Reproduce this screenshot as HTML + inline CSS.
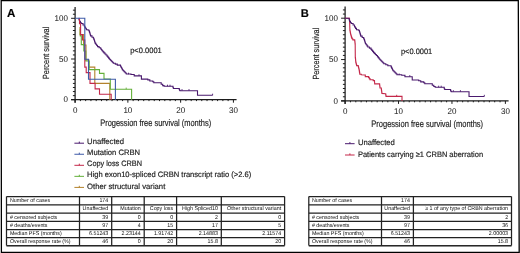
<!DOCTYPE html>
<html><head><meta charset="utf-8"><title>CRBN PFS</title><style>html,body{margin:0;padding:0;background:#fff;width:520px;height:253px;overflow:hidden}svg text{font-family:"Liberation Sans", sans-serif;filter:grayscale(1);text-rendering:geometricPrecision;stroke:#1e1e1e;stroke-width:0.18px}</style></head><body>
<svg width="520" height="253" viewBox="0 0 520 253" style="display:block;font-family:'Liberation Sans', sans-serif">
<rect x="0" y="0" width="520" height="253" fill="#fff"/>
<path d="M1.2,0.5 L518.3,0.5 L519.2,252.4 L1.4,252.4 Z" fill="none" stroke="#000" stroke-width="1.3" />
<text x="7.10" y="16.70" font-size="11.6" text-anchor="start" font-weight="bold" fill="#000" >A</text>
<text x="300.70" y="16.50" font-size="11.2" text-anchor="start" font-weight="bold" fill="#000" >B</text>
<path d="M75.1,6.90 L75.1,102.70" fill="none" stroke="#1c1c1c" stroke-width="1.25" />
<path d="M71.10,99.7 L236.58,99.7" fill="none" stroke="#1c1c1c" stroke-width="1.25" />
<path d="M71.10,99.70 L75.1,99.70 M72.90,95.63 L75.1,95.63 M72.90,91.56 L75.1,91.56 M72.90,87.49 L75.1,87.49 M72.90,83.42 L75.1,83.42 M72.90,79.35 L75.1,79.35 M72.90,75.28 L75.1,75.28 M72.90,71.21 L75.1,71.21 M72.90,67.14 L75.1,67.14 M72.90,63.07 L75.1,63.07 M71.10,59.00 L75.1,59.00 M72.90,54.93 L75.1,54.93 M72.90,50.86 L75.1,50.86 M72.90,46.79 L75.1,46.79 M72.90,42.72 L75.1,42.72 M72.90,38.65 L75.1,38.65 M72.90,34.58 L75.1,34.58 M72.90,30.51 L75.1,30.51 M72.90,26.44 L75.1,26.44 M72.90,22.37 L75.1,22.37 M71.10,18.30 L75.1,18.30 M72.90,14.23 L75.1,14.23 M72.90,10.16 L75.1,10.16" fill="none" stroke="#1c1c1c" stroke-width="1.0" />
<path d="M75.10,99.7 L75.10,102.70 M80.38,99.7 L80.38,101.10 M85.65,99.7 L85.65,101.10 M90.93,99.7 L90.93,101.10 M96.21,99.7 L96.21,101.10 M101.48,99.7 L101.48,101.10 M106.76,99.7 L106.76,101.10 M112.04,99.7 L112.04,101.10 M117.32,99.7 L117.32,101.10 M122.59,99.7 L122.59,101.10 M127.87,99.7 L127.87,102.70 M133.15,99.7 L133.15,101.10 M138.42,99.7 L138.42,101.10 M143.70,99.7 L143.70,101.10 M148.98,99.7 L148.98,101.10 M154.25,99.7 L154.25,101.10 M159.53,99.7 L159.53,101.10 M164.81,99.7 L164.81,101.10 M170.09,99.7 L170.09,101.10 M175.36,99.7 L175.36,101.10 M180.64,99.7 L180.64,102.70 M185.92,99.7 L185.92,101.10 M191.19,99.7 L191.19,101.10 M196.47,99.7 L196.47,101.10 M201.75,99.7 L201.75,101.10 M207.03,99.7 L207.03,101.10 M212.30,99.7 L212.30,101.10 M217.58,99.7 L217.58,101.10 M222.86,99.7 L222.86,101.10 M228.13,99.7 L228.13,101.10 M233.41,99.7 L233.41,102.70" fill="none" stroke="#1c1c1c" stroke-width="1.0" />
<path d="M345.1,6.62 L345.1,103.90" fill="none" stroke="#1c1c1c" stroke-width="1.25" />
<path d="M341.10,100.9 L508.60,100.9" fill="none" stroke="#1c1c1c" stroke-width="1.25" />
<path d="M341.10,100.90 L345.1,100.90 M342.90,96.77 L345.1,96.77 M342.90,92.63 L345.1,92.63 M342.90,88.50 L345.1,88.50 M342.90,84.36 L345.1,84.36 M342.90,80.23 L345.1,80.23 M342.90,76.09 L345.1,76.09 M342.90,71.95 L345.1,71.95 M342.90,67.82 L345.1,67.82 M342.90,63.69 L345.1,63.69 M341.10,59.55 L345.1,59.55 M342.90,55.41 L345.1,55.41 M342.90,51.28 L345.1,51.28 M342.90,47.15 L345.1,47.15 M342.90,43.01 L345.1,43.01 M342.90,38.88 L345.1,38.88 M342.90,34.74 L345.1,34.74 M342.90,30.61 L345.1,30.61 M342.90,26.47 L345.1,26.47 M342.90,22.33 L345.1,22.33 M341.10,18.20 L345.1,18.20 M342.90,14.06 L345.1,14.06 M342.90,9.93 L345.1,9.93" fill="none" stroke="#1c1c1c" stroke-width="1.0" />
<path d="M345.10,100.9 L345.10,103.90 M350.44,100.9 L350.44,102.30 M355.79,100.9 L355.79,102.30 M361.13,100.9 L361.13,102.30 M366.47,100.9 L366.47,102.30 M371.81,100.9 L371.81,102.30 M377.16,100.9 L377.16,102.30 M382.50,100.9 L382.50,102.30 M387.84,100.9 L387.84,102.30 M393.19,100.9 L393.19,102.30 M398.53,100.9 L398.53,103.90 M403.87,100.9 L403.87,102.30 M409.22,100.9 L409.22,102.30 M414.56,100.9 L414.56,102.30 M419.90,100.9 L419.90,102.30 M425.25,100.9 L425.25,102.30 M430.59,100.9 L430.59,102.30 M435.93,100.9 L435.93,102.30 M441.27,100.9 L441.27,102.30 M446.62,100.9 L446.62,102.30 M451.96,100.9 L451.96,103.90 M457.30,100.9 L457.30,102.30 M462.65,100.9 L462.65,102.30 M467.99,100.9 L467.99,102.30 M473.33,100.9 L473.33,102.30 M478.68,100.9 L478.68,102.30 M484.02,100.9 L484.02,102.30 M489.36,100.9 L489.36,102.30 M494.70,100.9 L494.70,102.30 M500.05,100.9 L500.05,102.30 M505.39,100.9 L505.39,103.90" fill="none" stroke="#1c1c1c" stroke-width="1.0" />
<text x="67.90" y="102.35" font-size="8.4" text-anchor="end" font-weight="normal" fill="#1e1e1e" textLength="4.45" lengthAdjust="spacingAndGlyphs" style="stroke-width:0.05px">0</text>
<text x="67.90" y="61.65" font-size="8.4" text-anchor="end" font-weight="normal" fill="#1e1e1e" textLength="8.90" lengthAdjust="spacingAndGlyphs" style="stroke-width:0.05px">50</text>
<text x="67.90" y="20.95" font-size="8.4" text-anchor="end" font-weight="normal" fill="#1e1e1e" textLength="13.34" lengthAdjust="spacingAndGlyphs" style="stroke-width:0.05px">100</text>
<text x="75.10" y="112.70" font-size="8.4" text-anchor="middle" font-weight="normal" fill="#1e1e1e" textLength="4.45" lengthAdjust="spacingAndGlyphs" style="stroke-width:0.05px">0</text>
<text x="127.87" y="112.70" font-size="8.4" text-anchor="middle" font-weight="normal" fill="#1e1e1e" textLength="8.90" lengthAdjust="spacingAndGlyphs" style="stroke-width:0.05px">10</text>
<text x="180.64" y="112.70" font-size="8.4" text-anchor="middle" font-weight="normal" fill="#1e1e1e" textLength="8.90" lengthAdjust="spacingAndGlyphs" style="stroke-width:0.05px">20</text>
<text x="233.41" y="112.70" font-size="8.4" text-anchor="middle" font-weight="normal" fill="#1e1e1e" textLength="8.90" lengthAdjust="spacingAndGlyphs" style="stroke-width:0.05px">30</text>
<text x="337.90" y="103.55" font-size="8.4" text-anchor="end" font-weight="normal" fill="#1e1e1e" textLength="4.45" lengthAdjust="spacingAndGlyphs" style="stroke-width:0.05px">0</text>
<text x="337.90" y="62.20" font-size="8.4" text-anchor="end" font-weight="normal" fill="#1e1e1e" textLength="8.90" lengthAdjust="spacingAndGlyphs" style="stroke-width:0.05px">50</text>
<text x="337.90" y="20.85" font-size="8.4" text-anchor="end" font-weight="normal" fill="#1e1e1e" textLength="13.34" lengthAdjust="spacingAndGlyphs" style="stroke-width:0.05px">100</text>
<text x="345.10" y="113.90" font-size="8.4" text-anchor="middle" font-weight="normal" fill="#1e1e1e" textLength="4.45" lengthAdjust="spacingAndGlyphs" style="stroke-width:0.05px">0</text>
<text x="398.53" y="113.90" font-size="8.4" text-anchor="middle" font-weight="normal" fill="#1e1e1e" textLength="8.90" lengthAdjust="spacingAndGlyphs" style="stroke-width:0.05px">10</text>
<text x="451.96" y="113.90" font-size="8.4" text-anchor="middle" font-weight="normal" fill="#1e1e1e" textLength="8.90" lengthAdjust="spacingAndGlyphs" style="stroke-width:0.05px">20</text>
<text x="505.39" y="113.90" font-size="8.4" text-anchor="middle" font-weight="normal" fill="#1e1e1e" textLength="8.90" lengthAdjust="spacingAndGlyphs" style="stroke-width:0.05px">30</text>
<text x="100.20" y="125.60" font-size="9.4" text-anchor="start" font-weight="normal" fill="#1e1e1e" textLength="111.00" lengthAdjust="spacingAndGlyphs" >Progession free survival (months)</text>
<text x="371.30" y="126.70" font-size="9.4" text-anchor="start" font-weight="normal" fill="#1e1e1e" textLength="111.80" lengthAdjust="spacingAndGlyphs" >Progession free survival (months)</text>
<text transform="translate(49.3,79.1) rotate(-90)" x="0" y="0" font-size="8.9" fill="#1e1e1e" textLength="52.4" lengthAdjust="spacingAndGlyphs">Percent survival</text>
<text transform="translate(319.4,79.6) rotate(-90)" x="0" y="0" font-size="8.9" fill="#1e1e1e" textLength="51.9" lengthAdjust="spacingAndGlyphs">Percent survival</text>
<text x="130.20" y="53.40" font-size="7.8" text-anchor="start" font-weight="normal" fill="#1e1e1e" textLength="31.60" lengthAdjust="spacingAndGlyphs" >p&lt;0.0001</text>
<text x="400.90" y="53.65" font-size="7.8" text-anchor="start" font-weight="normal" fill="#1e1e1e" textLength="31.40" lengthAdjust="spacingAndGlyphs" >p&lt;0.0001</text>
<path d="M78.60,18.30 L78.97,18.30 L78.97,19.40 L79.33,19.40 L79.33,20.50 L79.70,20.50 L79.70,21.60 L80.40,21.60 L80.40,22.55 L81.10,22.55 L81.10,23.50 L83.00,23.50 L83.00,25.00 L84.40,25.00 L84.40,26.40 L84.90,26.40 L84.90,27.35 L85.40,27.35 L85.40,28.30 L86.30,28.30 L86.30,29.70 L88.20,29.70 L88.20,30.20 L89.20,30.20 L89.20,31.60 L89.60,31.60 L89.60,32.80 L90.00,32.80 L90.00,34.00 L90.30,34.00 L90.30,34.95 L90.60,34.95 L90.60,35.90 L92.00,35.90 L92.00,37.30 L93.40,37.30 L93.40,38.20 L93.85,38.20 L93.85,39.35 L94.30,39.35 L94.30,40.50 L94.60,40.50 L94.60,41.47 L94.90,41.47 L94.90,42.43 L95.20,42.43 L95.20,43.40 L95.97,43.40 L95.97,44.47 L96.73,44.47 L96.73,45.53 L97.50,45.53 L97.50,46.60 L99.10,46.60 L99.10,47.80 L100.70,47.80 L100.70,49.00 L101.50,49.00 L101.50,49.98 L102.30,49.98 L102.30,50.95 L103.10,50.95 L103.10,51.92 L103.90,51.92 L103.90,52.90 L104.93,52.90 L104.93,53.97 L105.97,53.97 L105.97,55.03 L107.00,55.03 L107.00,56.10 L107.80,56.10 L107.80,57.13 L108.60,57.13 L108.60,58.17 L109.40,58.17 L109.40,59.20 L110.38,59.20 L110.38,60.20 L111.35,60.20 L111.35,61.20 L112.33,61.20 L112.33,62.20 L113.30,62.20 L113.30,63.20 L115.30,63.20 L115.30,64.15 L117.30,64.15 L117.30,65.10 L120.50,65.10 L120.50,66.20 L121.13,66.20 L121.13,67.47 L121.77,67.47 L121.77,68.73 L122.40,68.73 L122.40,70.00 L123.38,70.00 L123.38,71.00 L124.35,71.00 L124.35,72.00 L125.33,72.00 L125.33,73.00 L126.30,73.00 L126.30,74.00 L131.00,74.00 L131.00,74.50 L134.20,74.50 L134.20,75.90 L141.40,75.90 L141.40,79.10 L147.40,79.10 L147.80,79.10 L147.80,79.90 L149.80,79.90 L149.80,81.00 L152.80,81.00 L152.80,81.80 L153.80,81.80 L153.80,82.80 L160.20,82.80 L161.20,82.80 L161.20,84.30 L162.70,84.30 L162.70,85.60 L164.10,85.60 L164.10,86.30 L172.10,86.30 L173.00,86.30 L173.00,87.80 L173.50,87.80 L173.50,88.50 L179.00,88.50 L179.25,88.50 L179.25,89.35 L179.50,89.35 L179.50,90.20 L180.00,90.20 L180.00,90.70 L197.50,90.70 L197.50,95.30 L212.60,95.30" fill="none" stroke="#4a1a6e" stroke-width="1.1" stroke-linejoin="miter"/>
<path d="M128.50,74.30 L128.50,72.70 M139.00,75.90 L139.00,74.30 M167.50,86.30 L167.50,84.70 M170.00,86.30 L170.00,84.70 M182.00,90.70 L182.00,89.10 M189.00,90.70 L189.00,89.10 M212.60,95.30 L212.60,93.70" fill="none" stroke="#4a1a6e" stroke-width="0.9" />
<path d="M80.00,27.00 L80.00,34.60 L83.60,34.60 L83.60,45.00 L86.00,45.00 L86.00,59.90 L88.80,59.90 L88.80,67.10 L94.80,67.10 L94.80,83.40 L109.80,83.40 L109.80,99.70" fill="none" stroke="#b3822c" stroke-width="1.1" stroke-linejoin="miter"/>
<path d="M80.30,29.00 L80.30,35.90 L81.30,35.90 L81.30,44.60 L83.80,44.60 L83.80,51.00 L85.80,51.00 L85.80,61.00 L89.20,61.00 L89.20,69.60 L99.50,69.60 L99.50,73.40 L104.00,73.40 L104.00,79.00 L110.30,79.00 L110.30,89.20 L131.60,89.20 L131.60,99.70" fill="none" stroke="#64b03a" stroke-width="1.1" stroke-linejoin="miter"/>
<path d="M126.20,89.20 L126.20,87.60" fill="none" stroke="#64b03a" stroke-width="0.9" />
<path d="M79.50,18.30 L79.50,23.70 L80.60,23.70 L80.60,34.60 L82.50,34.60 L82.50,40.00 L84.80,40.00 L84.80,67.10 L86.20,67.10 L86.20,72.60 L90.00,72.60 L90.00,83.40 L95.10,83.40 L95.10,88.90 L99.50,88.90 L99.50,94.30 L111.20,94.30 L111.20,99.70" fill="none" stroke="#c4284a" stroke-width="1.1" stroke-linejoin="miter"/>
<path d="M75.10,18.30 L84.80,18.30 L84.80,59.20 L88.50,59.20 L88.50,79.30 L115.40,79.30 L115.40,99.70" fill="none" stroke="#3f5ba8" stroke-width="1.1" stroke-linejoin="miter"/>
<path d="M345.10,18.20 L349.50,18.20 L349.70,23.30 L349.90,30.40 L350.10,30.40 L350.10,31.60 L350.30,31.60 L350.30,32.80 L350.50,32.80 L350.50,34.00 L350.80,34.00 L350.80,35.02 L351.10,35.02 L351.10,36.05 L351.40,36.05 L351.40,37.08 L351.70,37.08 L351.70,38.10 L352.30,38.10 L352.30,39.00 L352.90,39.00 L352.90,39.90 L354.70,39.90 L354.70,40.50 L354.82,40.50 L354.82,41.62 L354.95,41.62 L354.95,42.75 L355.07,42.75 L355.07,43.88 L355.20,43.88 L355.20,45.00 L355.30,57.60 L355.43,57.60 L355.43,58.80 L355.55,58.80 L355.55,60.00 L355.68,60.00 L355.68,61.20 L355.80,61.20 L355.80,62.40 L356.07,62.40 L356.07,63.47 L356.33,63.47 L356.33,64.53 L356.60,64.53 L356.60,65.60 L358.20,65.60 L358.20,66.30 L358.47,66.30 L358.47,67.37 L358.73,67.37 L358.73,68.43 L359.00,68.43 L359.00,69.50 L359.20,69.50 L359.20,70.67 L359.40,70.67 L359.40,71.85 L359.60,71.85 L359.60,73.03 L359.80,73.03 L359.80,74.20 L361.30,74.20 L361.30,74.70 L364.50,75.00 L365.30,75.00 L365.30,76.60 L368.50,76.60 L368.50,77.40 L369.25,77.40 L369.25,78.60 L370.00,78.60 L370.00,79.80 L373.20,79.80 L373.20,80.60 L374.50,80.60 L374.50,81.00 L374.70,83.90 L379.50,83.90 L379.62,83.90 L379.62,84.93 L379.75,84.93 L379.75,85.95 L379.88,85.95 L379.88,86.97 L380.00,86.97 L380.00,88.00 L381.30,88.00 L381.30,89.20 L381.45,89.20 L381.45,90.25 L381.60,90.25 L381.60,91.30 L381.75,91.30 L381.75,92.35 L381.90,92.35 L381.90,93.40 L385.40,93.70 L385.70,93.70 L385.70,95.05 L386.00,95.05 L386.00,96.40 L402.00,96.40 L402.00,100.90" fill="none" stroke="#c4284a" stroke-width="1.1" stroke-linejoin="miter"/>
<path d="M396.70,96.40 L396.70,94.80" fill="none" stroke="#c4284a" stroke-width="0.9" />
<path d="M345.10,18.20 L348.64,18.20 L349.02,18.20 L349.02,19.32 L349.39,19.32 L349.39,20.44 L349.76,20.44 L349.76,21.55 L350.47,21.55 L350.47,22.52 L351.18,22.52 L351.18,23.48 L353.10,23.48 L353.10,25.01 L354.52,25.01 L354.52,26.43 L355.02,26.43 L355.02,27.39 L355.53,27.39 L355.53,28.36 L356.44,28.36 L356.44,29.78 L358.36,29.78 L358.36,30.29 L359.38,30.29 L359.38,31.71 L359.78,31.71 L359.78,32.93 L360.19,32.93 L360.19,34.15 L360.49,34.15 L360.49,35.12 L360.79,35.12 L360.79,36.08 L362.21,36.08 L362.21,37.50 L363.63,37.50 L363.63,38.42 L364.08,38.42 L364.08,39.59 L364.54,39.59 L364.54,40.75 L364.84,40.75 L364.84,41.74 L365.15,41.74 L365.15,42.72 L365.45,42.72 L365.45,43.70 L366.23,43.70 L366.23,44.78 L367.00,44.78 L367.00,45.87 L367.78,45.87 L367.78,46.95 L369.40,46.95 L369.40,48.17 L371.02,48.17 L371.02,49.39 L371.83,49.39 L371.83,50.38 L372.64,50.38 L372.64,51.37 L373.45,51.37 L373.45,52.36 L374.26,52.36 L374.26,53.35 L375.31,53.35 L375.31,54.44 L376.35,54.44 L376.35,55.52 L377.40,55.52 L377.40,56.60 L378.21,56.60 L378.21,57.65 L379.02,57.65 L379.02,58.70 L379.83,58.70 L379.83,59.75 L380.82,59.75 L380.82,60.77 L381.80,60.77 L381.80,61.79 L382.79,61.79 L382.79,62.80 L383.78,62.80 L383.78,63.82 L385.80,63.82 L385.80,64.78 L387.83,64.78 L387.83,65.75 L391.07,65.75 L391.07,66.86 L391.55,66.86 L391.55,67.83 L392.03,67.83 L392.03,68.80 L392.51,68.80 L392.51,69.76 L392.99,69.76 L392.99,70.73 L393.98,70.73 L393.98,71.74 L394.97,71.74 L394.97,72.76 L395.95,72.76 L395.95,73.77 L396.94,73.77 L396.94,74.79 L401.70,74.79 L401.70,75.30 L404.94,75.30 L404.94,76.72 L412.23,76.72 L412.23,79.97 L418.30,79.97 L418.71,79.97 L418.71,80.78 L420.73,80.78 L420.73,81.90 L423.77,81.90 L423.77,82.71 L424.78,82.71 L424.78,83.73 L431.26,83.73 L432.28,83.73 L432.28,85.25 L433.80,85.25 L433.80,86.57 L435.21,86.57 L435.21,87.29 L443.31,87.29 L444.22,87.29 L444.22,88.81 L444.73,88.81 L444.73,89.52 L450.30,89.52 L450.55,89.52 L450.55,90.38 L450.81,90.38 L450.81,91.25 L451.31,91.25 L451.31,91.76 L469.03,91.76 L469.03,96.43 L484.32,96.43" fill="none" stroke="#4a1a6e" stroke-width="1.1" stroke-linejoin="miter"/>
<path d="M399.17,75.09 L399.17,73.49 M409.80,76.72 L409.80,75.12 M438.66,87.29 L438.66,85.69 M441.19,87.29 L441.19,85.69 M453.34,91.76 L453.34,90.16 M460.42,91.76 L460.42,90.16 M484.32,96.43 L484.32,94.83" fill="none" stroke="#4a1a6e" stroke-width="0.9" />
<path d="M74.40,143.20 L84.00,143.20" fill="none" stroke="#4a1a6e" stroke-width="1.0" />
<path d="M79.30,143.20 L79.30,141.60" fill="none" stroke="#4a1a6e" stroke-width="1.0" />
<text x="87.10" y="144.20" font-size="7.8" text-anchor="start" font-weight="normal" fill="#1e1e1e" textLength="37.00" lengthAdjust="spacingAndGlyphs" stroke="#1e1e1e" stroke-width="0.05">Unaffected</text>
<path d="M74.40,154.25 L84.00,154.25" fill="none" stroke="#3f5ba8" stroke-width="1.0" />
<path d="M79.30,154.25 L79.30,152.65" fill="none" stroke="#3f5ba8" stroke-width="1.0" />
<text x="87.10" y="155.28" font-size="7.8" text-anchor="start" font-weight="normal" fill="#1e1e1e" textLength="53.00" lengthAdjust="spacingAndGlyphs" stroke="#1e1e1e" stroke-width="0.05">Mutation CRBN</text>
<path d="M74.40,165.30 L84.00,165.30" fill="none" stroke="#c4284a" stroke-width="1.0" />
<path d="M79.30,165.30 L79.30,163.70" fill="none" stroke="#c4284a" stroke-width="1.0" />
<text x="87.10" y="166.36" font-size="7.8" text-anchor="start" font-weight="normal" fill="#1e1e1e" textLength="54.90" lengthAdjust="spacingAndGlyphs" stroke="#1e1e1e" stroke-width="0.05">Copy loss CRBN</text>
<path d="M74.40,176.35 L84.00,176.35" fill="none" stroke="#64b03a" stroke-width="1.0" />
<path d="M79.30,176.35 L79.30,174.75" fill="none" stroke="#64b03a" stroke-width="1.0" />
<text x="87.10" y="177.44" font-size="7.8" text-anchor="start" font-weight="normal" fill="#1e1e1e" textLength="164.20" lengthAdjust="spacingAndGlyphs" stroke="#1e1e1e" stroke-width="0.05">High exon10-spliced CRBN transcript ratio (&gt;2.6)</text>
<path d="M74.40,187.40 L84.00,187.40" fill="none" stroke="#b3822c" stroke-width="1.0" />
<path d="M79.30,187.40 L79.30,185.80" fill="none" stroke="#b3822c" stroke-width="1.0" />
<text x="87.10" y="188.52" font-size="7.8" text-anchor="start" font-weight="normal" fill="#1e1e1e" textLength="78.20" lengthAdjust="spacingAndGlyphs" stroke="#1e1e1e" stroke-width="0.05">Other structural variant</text>
<path d="M345.00,143.70 L354.60,143.70" fill="none" stroke="#4a1a6e" stroke-width="1.0" />
<path d="M349.90,143.70 L349.90,142.10" fill="none" stroke="#4a1a6e" stroke-width="1.0" />
<text x="357.90" y="145.20" font-size="7.8" text-anchor="start" font-weight="normal" fill="#1e1e1e" textLength="37.00" lengthAdjust="spacingAndGlyphs" stroke="#1e1e1e" stroke-width="0.05">Unaffected</text>
<path d="M345.00,155.00 L354.60,155.00" fill="none" stroke="#c4284a" stroke-width="1.0" />
<path d="M349.90,155.00 L349.90,153.40" fill="none" stroke="#c4284a" stroke-width="1.0" />
<text x="357.90" y="156.50" font-size="7.8" text-anchor="start" font-weight="normal" fill="#1e1e1e" textLength="125.20" lengthAdjust="spacingAndGlyphs" stroke="#1e1e1e" stroke-width="0.05">Patients carrying ≥1 CRBN aberration</text>
<path d="M6.50,196.60 L284.60,196.60 M6.50,204.80 L284.60,204.80 M6.50,213.10 L284.60,213.10 M6.50,221.40 L284.60,221.40 M6.50,229.60 L284.60,229.60 M6.50,237.70 L284.60,237.70 M6.50,245.60 L284.60,245.60" fill="none" stroke="#222" stroke-width="1.25" />
<path d="M6.50,196.60 L6.50,245.60 M79.50,196.60 L79.50,245.60 M111.70,196.60 L111.70,245.60 M144.20,196.60 L144.20,245.60 M176.60,196.60 L176.60,245.60 M221.30,196.60 L221.30,245.60 M284.60,196.60 L284.60,245.60" fill="none" stroke="#222" stroke-width="1.25" />
<path d="M6.50,246.00 L284.60,246.00" fill="none" stroke="#333" stroke-width="0.8" />
<text x="9.90" y="202.10" font-size="5.6" text-anchor="start" font-weight="normal" fill="#111" textLength="40.29" lengthAdjust="spacingAndGlyphs" style="stroke-width:0px">Number of cases</text>
<text x="108.30" y="202.10" font-size="5.6" text-anchor="end" font-weight="normal" fill="#111" textLength="8.89" lengthAdjust="spacingAndGlyphs" style="stroke-width:0px">174</text>
<text x="108.30" y="210.30" font-size="5.6" text-anchor="end" font-weight="normal" fill="#111" textLength="25.68" lengthAdjust="spacingAndGlyphs" style="stroke-width:0px">Unaffected</text>
<text x="140.80" y="210.30" font-size="5.6" text-anchor="end" font-weight="normal" fill="#111" textLength="20.44" lengthAdjust="spacingAndGlyphs" style="stroke-width:0px">Mutation</text>
<text x="173.20" y="210.30" font-size="5.6" text-anchor="end" font-weight="normal" fill="#111" textLength="23.40" lengthAdjust="spacingAndGlyphs" style="stroke-width:0px">Copy loss</text>
<text x="217.90" y="210.30" font-size="5.6" text-anchor="end" font-weight="normal" fill="#111" textLength="35.85" lengthAdjust="spacingAndGlyphs" style="stroke-width:0px">High Spliced10</text>
<text x="281.20" y="210.30" font-size="5.6" text-anchor="end" font-weight="normal" fill="#111" textLength="54.21" lengthAdjust="spacingAndGlyphs" style="stroke-width:0px">Other structural variant</text>
<text x="9.90" y="218.60" font-size="5.6" text-anchor="start" font-weight="normal" fill="#111" textLength="47.41" lengthAdjust="spacingAndGlyphs" style="stroke-width:0px"># censored subjects</text>
<text x="108.30" y="218.60" font-size="5.6" text-anchor="end" font-weight="normal" fill="#111" textLength="5.93" lengthAdjust="spacingAndGlyphs" style="stroke-width:0px">39</text>
<text x="140.80" y="218.60" font-size="5.6" text-anchor="end" font-weight="normal" fill="#111" textLength="2.96" lengthAdjust="spacingAndGlyphs" style="stroke-width:0px">0</text>
<text x="173.20" y="218.60" font-size="5.6" text-anchor="end" font-weight="normal" fill="#111" textLength="2.96" lengthAdjust="spacingAndGlyphs" style="stroke-width:0px">0</text>
<text x="217.90" y="218.60" font-size="5.6" text-anchor="end" font-weight="normal" fill="#111" textLength="2.96" lengthAdjust="spacingAndGlyphs" style="stroke-width:0px">2</text>
<text x="281.20" y="218.60" font-size="5.6" text-anchor="end" font-weight="normal" fill="#111" textLength="2.96" lengthAdjust="spacingAndGlyphs" style="stroke-width:0px">0</text>
<text x="9.90" y="226.90" font-size="5.6" text-anchor="start" font-weight="normal" fill="#111" textLength="37.63" lengthAdjust="spacingAndGlyphs" style="stroke-width:0px"># deaths/events</text>
<text x="108.30" y="226.90" font-size="5.6" text-anchor="end" font-weight="normal" fill="#111" textLength="5.93" lengthAdjust="spacingAndGlyphs" style="stroke-width:0px">97</text>
<text x="140.80" y="226.90" font-size="5.6" text-anchor="end" font-weight="normal" fill="#111" textLength="2.96" lengthAdjust="spacingAndGlyphs" style="stroke-width:0px">4</text>
<text x="173.20" y="226.90" font-size="5.6" text-anchor="end" font-weight="normal" fill="#111" textLength="5.93" lengthAdjust="spacingAndGlyphs" style="stroke-width:0px">15</text>
<text x="217.90" y="226.90" font-size="5.6" text-anchor="end" font-weight="normal" fill="#111" textLength="5.93" lengthAdjust="spacingAndGlyphs" style="stroke-width:0px">17</text>
<text x="281.20" y="226.90" font-size="5.6" text-anchor="end" font-weight="normal" fill="#111" textLength="2.96" lengthAdjust="spacingAndGlyphs" style="stroke-width:0px">5</text>
<text x="9.90" y="235.10" font-size="5.6" text-anchor="start" font-weight="normal" fill="#111" textLength="51.84" lengthAdjust="spacingAndGlyphs" style="stroke-width:0px">Median PFS (months)</text>
<text x="108.30" y="235.10" font-size="5.6" text-anchor="end" font-weight="normal" fill="#111" textLength="19.27" lengthAdjust="spacingAndGlyphs" style="stroke-width:0px">6.51243</text>
<text x="140.80" y="235.10" font-size="5.6" text-anchor="end" font-weight="normal" fill="#111" textLength="19.27" lengthAdjust="spacingAndGlyphs" style="stroke-width:0px">2.23144</text>
<text x="173.20" y="235.10" font-size="5.6" text-anchor="end" font-weight="normal" fill="#111" textLength="19.27" lengthAdjust="spacingAndGlyphs" style="stroke-width:0px">1.91742</text>
<text x="217.90" y="235.10" font-size="5.6" text-anchor="end" font-weight="normal" fill="#111" textLength="19.27" lengthAdjust="spacingAndGlyphs" style="stroke-width:0px">2.14883</text>
<text x="281.20" y="235.10" font-size="5.6" text-anchor="end" font-weight="normal" fill="#111" textLength="18.87" lengthAdjust="spacingAndGlyphs" style="stroke-width:0px">2.11574</text>
<text x="9.90" y="243.20" font-size="5.6" text-anchor="start" font-weight="normal" fill="#111" textLength="60.73" lengthAdjust="spacingAndGlyphs" style="stroke-width:0px">Overall response rate (%)</text>
<text x="108.30" y="243.20" font-size="5.6" text-anchor="end" font-weight="normal" fill="#111" textLength="5.93" lengthAdjust="spacingAndGlyphs" style="stroke-width:0px">46</text>
<text x="140.80" y="243.20" font-size="5.6" text-anchor="end" font-weight="normal" fill="#111" textLength="2.96" lengthAdjust="spacingAndGlyphs" style="stroke-width:0px">0</text>
<text x="173.20" y="243.20" font-size="5.6" text-anchor="end" font-weight="normal" fill="#111" textLength="5.93" lengthAdjust="spacingAndGlyphs" style="stroke-width:0px">20</text>
<text x="217.90" y="243.20" font-size="5.6" text-anchor="end" font-weight="normal" fill="#111" textLength="10.37" lengthAdjust="spacingAndGlyphs" style="stroke-width:0px">15.8</text>
<text x="281.20" y="243.20" font-size="5.6" text-anchor="end" font-weight="normal" fill="#111" textLength="5.93" lengthAdjust="spacingAndGlyphs" style="stroke-width:0px">20</text>
<path d="M308.80,196.60 L511.50,196.60 M308.80,204.80 L511.50,204.80 M308.80,213.10 L511.50,213.10 M308.80,221.40 L511.50,221.40 M308.80,229.60 L511.50,229.60 M308.80,237.70 L511.50,237.70 M308.80,245.60 L511.50,245.60" fill="none" stroke="#222" stroke-width="1.25" />
<path d="M308.80,196.60 L308.80,245.60 M381.50,196.60 L381.50,245.60 M413.40,196.60 L413.40,245.60 M511.50,196.60 L511.50,245.60" fill="none" stroke="#222" stroke-width="1.25" />
<path d="M308.80,246.00 L511.50,246.00" fill="none" stroke="#333" stroke-width="0.8" />
<text x="311.90" y="202.10" font-size="5.6" text-anchor="start" font-weight="normal" fill="#111" textLength="40.29" lengthAdjust="spacingAndGlyphs" style="stroke-width:0px">Number of cases</text>
<text x="410.00" y="202.10" font-size="5.6" text-anchor="end" font-weight="normal" fill="#111" textLength="8.89" lengthAdjust="spacingAndGlyphs" style="stroke-width:0px">174</text>
<text x="410.00" y="210.30" font-size="5.6" text-anchor="end" font-weight="normal" fill="#111" textLength="25.68" lengthAdjust="spacingAndGlyphs" style="stroke-width:0px">Unaffected</text>
<text x="508.10" y="210.30" font-size="5.6" text-anchor="end" font-weight="normal" fill="#111" textLength="82.92" lengthAdjust="spacingAndGlyphs" style="stroke-width:0px">≥ 1 of any type of CRBN aberration</text>
<text x="311.90" y="218.60" font-size="5.6" text-anchor="start" font-weight="normal" fill="#111" textLength="47.41" lengthAdjust="spacingAndGlyphs" style="stroke-width:0px"># censored subjects</text>
<text x="410.00" y="218.60" font-size="5.6" text-anchor="end" font-weight="normal" fill="#111" textLength="5.93" lengthAdjust="spacingAndGlyphs" style="stroke-width:0px">39</text>
<text x="508.10" y="218.60" font-size="5.6" text-anchor="end" font-weight="normal" fill="#111" textLength="2.96" lengthAdjust="spacingAndGlyphs" style="stroke-width:0px">2</text>
<text x="311.90" y="226.90" font-size="5.6" text-anchor="start" font-weight="normal" fill="#111" textLength="37.63" lengthAdjust="spacingAndGlyphs" style="stroke-width:0px"># deaths/events</text>
<text x="410.00" y="226.90" font-size="5.6" text-anchor="end" font-weight="normal" fill="#111" textLength="5.93" lengthAdjust="spacingAndGlyphs" style="stroke-width:0px">97</text>
<text x="508.10" y="226.90" font-size="5.6" text-anchor="end" font-weight="normal" fill="#111" textLength="5.93" lengthAdjust="spacingAndGlyphs" style="stroke-width:0px">36</text>
<text x="311.90" y="235.10" font-size="5.6" text-anchor="start" font-weight="normal" fill="#111" textLength="51.84" lengthAdjust="spacingAndGlyphs" style="stroke-width:0px">Median PFS (months)</text>
<text x="410.00" y="235.10" font-size="5.6" text-anchor="end" font-weight="normal" fill="#111" textLength="19.27" lengthAdjust="spacingAndGlyphs" style="stroke-width:0px">6.51243</text>
<text x="508.10" y="235.10" font-size="5.6" text-anchor="end" font-weight="normal" fill="#111" textLength="19.27" lengthAdjust="spacingAndGlyphs" style="stroke-width:0px">2.00003</text>
<text x="311.90" y="243.20" font-size="5.6" text-anchor="start" font-weight="normal" fill="#111" textLength="60.73" lengthAdjust="spacingAndGlyphs" style="stroke-width:0px">Overall response rate (%)</text>
<text x="410.00" y="243.20" font-size="5.6" text-anchor="end" font-weight="normal" fill="#111" textLength="5.93" lengthAdjust="spacingAndGlyphs" style="stroke-width:0px">46</text>
<text x="508.10" y="243.20" font-size="5.6" text-anchor="end" font-weight="normal" fill="#111" textLength="10.37" lengthAdjust="spacingAndGlyphs" style="stroke-width:0px">15.8</text>
</svg>
</body></html>
